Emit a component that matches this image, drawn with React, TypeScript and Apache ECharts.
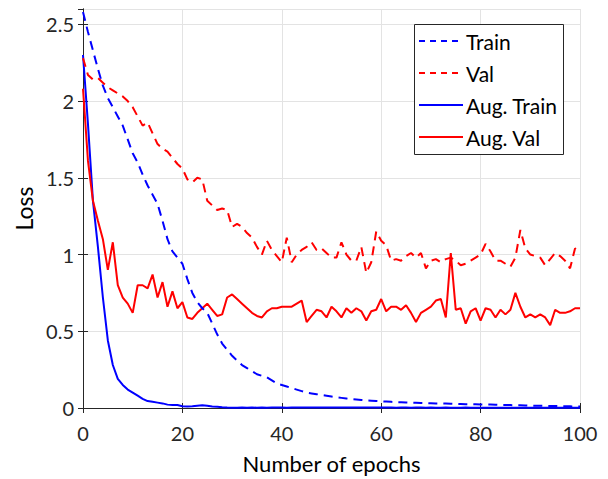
import React, { useEffect, useRef } from "react";
import * as echarts from "echarts";

const epochs: number[] = Array.from({ length: 101 }, (_, i) => i);

const trainLoss: number[] = [
  2.58, 2.45, 2.33, 2.21, 2.1, 2.02, 1.96, 1.9, 1.84, 1.75,
  1.66, 1.6, 1.52, 1.45, 1.39, 1.33, 1.22, 1.1, 1.02, 0.98,
  0.94, 0.84, 0.75, 0.69, 0.65, 0.62, 0.55, 0.48, 0.42, 0.38,
  0.34, 0.31, 0.28, 0.26, 0.24, 0.22, 0.21, 0.2, 0.18, 0.16,
  0.15, 0.14, 0.13, 0.12, 0.11, 0.1, 0.095, 0.09, 0.085, 0.08,
  0.075, 0.07, 0.066, 0.062, 0.058, 0.055, 0.052, 0.05, 0.048, 0.046,
  0.044, 0.042, 0.04, 0.038, 0.037, 0.036, 0.035, 0.034, 0.033, 0.032,
  0.031, 0.03, 0.03, 0.029, 0.028, 0.027, 0.026, 0.025, 0.025, 0.024,
  0.023, 0.022, 0.022, 0.021, 0.02, 0.02, 0.019, 0.018, 0.018, 0.017,
  0.016, 0.015, 0.015, 0.014, 0.013, 0.013, 0.012, 0.011, 0.011, 0.01,
  0.01,
];

const valLoss: number[] = [
  2.28, 2.17, 2.14, 2.15, 2.12, 2.09, 2.07, 2.05, 2.03, 2.0,
  1.96, 1.9, 1.84, 1.86, 1.79, 1.72, 1.69, 1.67, 1.63, 1.59,
  1.56, 1.49, 1.47, 1.5, 1.49, 1.35, 1.32, 1.29, 1.3, 1.29,
  1.18, 1.2, 1.18, 1.14, 1.11, 1.05, 1.0, 1.09, 1.03, 0.99,
  0.95, 1.11, 0.95, 1.0, 1.03, 1.05, 1.08, 1.03, 1.04, 1.01,
  0.98, 0.98, 1.08, 1.0, 0.96, 0.96, 1.05, 0.88, 0.95, 1.15,
  1.09, 1.06, 0.96, 0.97, 0.96, 0.99, 1.01, 0.98, 1.01, 0.91,
  0.96, 0.97, 0.95, 0.97, 0.98, 0.96, 0.93, 0.94, 0.96, 0.98,
  1.0, 1.07, 1.02, 0.96, 0.96, 0.94, 0.92, 0.98, 1.16, 1.04,
  1.0, 0.99, 0.98, 0.93, 0.97, 1.01, 0.99, 0.96, 0.91, 1.04,
  1.02,
];

const augTrainLoss: number[] = [
  2.3, 1.85, 1.35, 1.05, 0.72, 0.44, 0.28, 0.19, 0.15, 0.12,
  0.1, 0.08, 0.06, 0.045, 0.04, 0.035, 0.03, 0.022, 0.02, 0.02,
  0.012, 0.01, 0.012, 0.015, 0.018, 0.015, 0.01, 0.008, 0.005, 0.003,
  0.002, 0.002, 0.003, 0.002, 0.003, 0.002, 0.003, 0.002, 0.003, 0.003,
  0.003, 0.002, 0.003, 0.003, 0.004, 0.004, 0.003, 0.004, 0.004, 0.003,
  0.004, 0.004, 0.003, 0.003, 0.004, 0.003, 0.003, 0.004, 0.003, 0.003,
  0.003, 0.003, 0.003, 0.002, 0.003, 0.003, 0.002, 0.003, 0.003, 0.002,
  0.003, 0.002, 0.002, 0.003, 0.002, 0.002, 0.002, 0.003, 0.002, 0.002,
  0.002, 0.002, 0.002, 0.002, 0.002, 0.002, 0.002, 0.002, 0.002, 0.002,
  0.002, 0.002, 0.002, 0.002, 0.002, 0.002, 0.002, 0.002, 0.002, 0.002,
  0.002,
];

const augValLoss: number[] = [
  2.08, 1.61, 1.35, 1.22, 1.1, 0.9, 1.08, 0.8, 0.72, 0.68,
  0.62, 0.8, 0.8, 0.78, 0.87, 0.72, 0.82, 0.66, 0.76, 0.65,
  0.69, 0.59, 0.58, 0.62, 0.65, 0.68, 0.64, 0.6, 0.61, 0.72,
  0.74, 0.71, 0.68, 0.65, 0.62, 0.6, 0.59, 0.63, 0.65, 0.65,
  0.66, 0.66, 0.66, 0.68, 0.7, 0.56, 0.6, 0.64, 0.63, 0.59,
  0.66, 0.63, 0.59, 0.65, 0.62, 0.65, 0.63, 0.57, 0.63, 0.64,
  0.71, 0.63, 0.66, 0.66, 0.64, 0.67, 0.62, 0.56, 0.62, 0.64,
  0.66, 0.7, 0.71, 0.59, 1.01, 0.64, 0.65, 0.55, 0.63, 0.65,
  0.57, 0.65, 0.64, 0.59, 0.64, 0.61, 0.64, 0.75, 0.66, 0.59,
  0.61, 0.59, 0.61, 0.59, 0.54, 0.64, 0.62, 0.62, 0.63, 0.65,
  0.65,
];

const seriesNames = ["Train", "Val", "Aug. Train", "Aug. Val"];
const xName = "Number of epochs";
const yName = "Loss";

const FONT = "Lato";
const AXIS_COLOR = "#262626";
const GRID_COLOR = "#e3e3e3";
const BLUE = "#0000ff";
const RED = "#ff0000";

export default function App() {
  const ref = useRef<HTMLDivElement>(null);

  useEffect(() => {
    if (!ref.current) return;
    const chart = echarts.init(ref.current, undefined, { renderer: "svg" });
    const pair = (ys: number[]) => epochs.map((x, i) => [x, ys[i]]);
    const dashed = [9, 6];
    const mk = (name: string, ys: number[], color: string, dash: boolean) => ({
      name,
      type: "line",
      data: pair(ys),
      symbol: "none",
      showSymbol: false,
      xAxisIndex: 0,
      yAxisIndex: 0,
      lineStyle: { color, width: 2, type: dash ? dashed : "solid" },
      itemStyle: { color },
      z: dash ? 3 : 2,
    });

    const tickStyle = { show: true, inside: true, length: 5, lineStyle: { color: AXIS_COLOR, width: 1 } };
    const lineStyle = { show: true, lineStyle: { color: AXIS_COLOR, width: 1 } };
    const hideSym = { opacity: 0 };

    chart.setOption({
      animation: false,
      backgroundColor: "#ffffff",
      grid: { left: 83, right: 28, top: 9, bottom: 71, containLabel: false },
      graphic: [
        {
          type: "rect",
          z: 10,
          shape: { x: 414.5, y: 24.5, width: 149, height: 130 },
          style: { fill: "#ffffff", stroke: "#262626", lineWidth: 1 },
        },
      ],
      legend: {
        orient: "vertical",
        left: 418,
        top: 30,
        z: 20,
        padding: 0,
        itemWidth: 44,
        itemHeight: 14,
        itemGap: 10,
        itemStyle: hideSym,
        textStyle: { fontFamily: FONT, fontSize: 21, color: "#000000", lineHeight: 22, padding: [0, 0, 0, -2] },
        data: [
          { name: seriesNames[0], lineStyle: { type: [6, 5] }, itemStyle: hideSym },
          { name: seriesNames[1], lineStyle: { type: [6, 5] }, itemStyle: hideSym },
          { name: seriesNames[2], itemStyle: hideSym },
          { name: seriesNames[3], itemStyle: hideSym },
        ],
      },
      xAxis: [
        {
          type: "value",
          min: 0,
          max: 100,
          interval: 20,
          position: "bottom",
          name: xName,
          nameLocation: "middle",
          nameGap: 44,
          nameTextStyle: { fontFamily: FONT, fontSize: 22, color: "#000000" },
          axisLine: lineStyle,
          axisTick: tickStyle,
          axisLabel: { fontFamily: FONT, fontSize: 20, color: AXIS_COLOR, margin: 15 },
          splitLine: { show: true, lineStyle: { color: GRID_COLOR, width: 1 } },
        },
        {
          type: "value",
          min: 0,
          max: 100,
          interval: 20,
          position: "top",
          axisLine: lineStyle,
          axisTick: tickStyle,
          axisLabel: { show: false },
          splitLine: { show: false },
        },
      ],
      yAxis: [
        {
          type: "value",
          min: 0,
          max: 2.6,
          interval: 0.5,
          position: "left",
          name: yName,
          nameLocation: "middle",
          nameGap: 46,
          nameTextStyle: { fontFamily: FONT, fontSize: 23, color: "#000000" },
          axisLine: lineStyle,
          axisTick: tickStyle,
          axisLabel: { fontFamily: FONT, fontSize: 20, color: AXIS_COLOR, margin: 9, showMaxLabel: false },
          splitLine: { show: true, lineStyle: { color: GRID_COLOR, width: 1 } },
        },
        {
          type: "value",
          min: 0,
          max: 2.6,
          interval: 0.5,
          position: "right",
          axisLine: lineStyle,
          axisTick: tickStyle,
          axisLabel: { show: false },
          splitLine: { show: false },
        },
      ],
      series: [
        mk(seriesNames[0], trainLoss, BLUE, true),
        mk(seriesNames[1], valLoss, RED, true),
        mk(seriesNames[2], augTrainLoss, BLUE, false),
        mk(seriesNames[3], augValLoss, RED, false),
      ],
    });

    return () => chart.dispose();
  }, []);

  return <div ref={ref} style={{ position: "absolute", left: 0, top: 0, width: 608, height: 479 }} />;
}
